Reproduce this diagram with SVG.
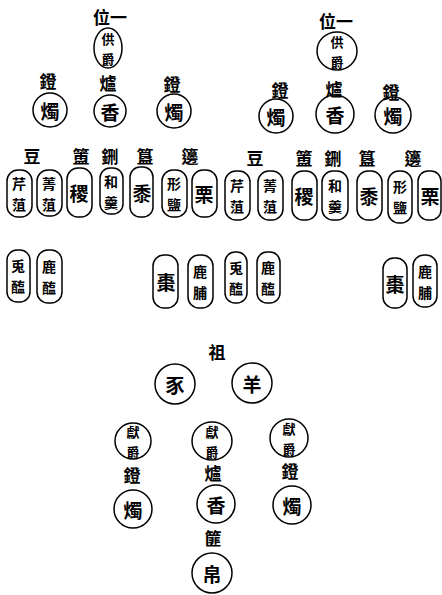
<svg xmlns="http://www.w3.org/2000/svg" width="442" height="595" viewBox="0 0 442 595">
<style>
.o{fill:none;stroke:#000;stroke-width:1.5}
.t{font-family:"Noto Sans CJK TC","Noto Sans CJK SC",sans-serif;font-weight:700;fill:#000;text-anchor:middle;dominant-baseline:central}
.l{font-size:17px}
.c{font-size:19px}
.p{font-size:14px}
.q{font-size:13px}
</style>
<rect width="442" height="595" fill="#fff"/>
<!-- top left group -->
<g id="title-left"><text class="t l" x="110" y="16">位一</text></g>
<g id="gongjue-left"><ellipse class="o" cx="108" cy="48" rx="14" ry="20"/><text class="t q" x="108" y="38">供</text><text class="t q" x="108" y="58">爵</text></g>
<g id="dengzhu-left-1"><text class="t l" x="48" y="80">鐙</text><circle class="o" cx="50" cy="110" r="17"/><text class="t c" x="50" y="110">燭</text></g>
<g id="luxiang-left"><text class="t l" x="108" y="82">爐</text><circle class="o" cx="110" cy="111" r="16"/><text class="t c" x="110" y="111">香</text></g>
<g id="dengzhu-left-2"><text class="t l" x="172" y="83">鐙</text><circle class="o" cx="174" cy="111" r="17"/><text class="t c" x="174" y="111">燭</text></g>
<!-- top right group -->
<g id="title-right"><text class="t l" x="336" y="20">位一</text></g>
<g id="gongjue-right"><ellipse class="o" cx="337" cy="51" rx="20" ry="19"/><text class="t q" x="337" y="41">供</text><text class="t q" x="337" y="61">爵</text></g>
<g id="dengzhu-right-1"><text class="t l" x="280" y="89">鐙</text><circle class="o" cx="276" cy="116" r="17"/><text class="t c" x="276" y="116">燭</text></g>
<g id="luxiang-right"><text class="t l" x="334" y="88">爐</text><circle class="o" cx="335" cy="114" r="19"/><text class="t c" x="335" y="114">香</text></g>
<g id="dengzhu-right-2"><text class="t l" x="391" y="91">鐙</text><circle class="o" cx="393" cy="115" r="18"/><text class="t c" x="393" y="115">燭</text></g>
<!-- vessel labels left -->
<g id="labels-left">
<text class="t l" x="32" y="155">豆</text>
<text class="t l" x="81" y="155">簠</text>
<text class="t l" x="110" y="155">鉶</text>
<text class="t l" x="145" y="155">簋</text>
<text class="t l" x="190" y="155">籩</text>
</g>
<g id="qinzu-left"><rect class="o" x="7" y="170" width="25" height="47" rx="11"/><text class="t p" x="19" y="183">芹</text><text class="t p" x="19" y="204">菹</text></g>
<g id="jingzu-left"><rect class="o" x="37" y="170" width="25" height="46" rx="11"/><text class="t p" x="49" y="183">菁</text><text class="t p" x="49" y="204">菹</text></g>
<g id="ji-left"><rect class="o" x="67" y="168" width="25" height="49" rx="11"/><text class="t c" x="79" y="192">稷</text></g>
<g id="hegeng-left"><rect class="o" x="100" y="168" width="23" height="46" rx="10"/><text class="t p" x="111" y="181">和</text><text class="t p" x="111" y="202">羹</text></g>
<g id="shu-left"><rect class="o" x="130" y="167" width="23" height="50" rx="10"/><text class="t c" x="142" y="192">黍</text></g>
<g id="xingyan-left"><rect class="o" x="162" y="170" width="25" height="47" rx="11"/><text class="t p" x="174" y="183">形</text><text class="t p" x="174" y="204">鹽</text></g>
<g id="li-left"><rect class="o" x="192" y="170" width="25" height="47" rx="11"/><text class="t c" x="204" y="193">栗</text></g>
<!-- vessel labels right -->
<g id="labels-right">
<text class="t l" x="255" y="157">豆</text>
<text class="t l" x="304" y="157">簠</text>
<text class="t l" x="333" y="157">鉶</text>
<text class="t l" x="367" y="157">簋</text>
<text class="t l" x="413" y="157">籩</text>
</g>
<g id="qinzu-right"><rect class="o" x="225" y="171" width="25" height="49" rx="11"/><text class="t p" x="237" y="185">芹</text><text class="t p" x="237" y="206">菹</text></g>
<g id="jingzu-right"><rect class="o" x="258" y="171" width="25" height="49" rx="11"/><text class="t p" x="270" y="185">菁</text><text class="t p" x="270" y="206">菹</text></g>
<g id="ji-right"><rect class="o" x="292" y="171" width="25" height="49" rx="11"/><text class="t c" x="304" y="195">稷</text></g>
<g id="hegeng-right"><rect class="o" x="322" y="171" width="26" height="49" rx="11"/><text class="t p" x="335" y="185">和</text><text class="t p" x="335" y="206">羹</text></g>
<g id="shu-right"><rect class="o" x="357" y="171" width="25" height="49" rx="11"/><text class="t c" x="369" y="195">黍</text></g>
<g id="xingyan-right"><rect class="o" x="388" y="171" width="24" height="52" rx="11"/><text class="t p" x="400" y="186">形</text><text class="t p" x="400" y="207">鹽</text></g>
<g id="li-right"><rect class="o" x="418" y="171" width="23" height="49" rx="10"/><text class="t c" x="430" y="195">栗</text></g>
<!-- second row -->
<g id="tuhai-left"><rect class="o" x="7" y="250" width="23" height="52" rx="10"/><text class="t p" x="18" y="265">兎</text><text class="t p" x="18" y="286">醢</text></g>
<g id="luhai-left"><rect class="o" x="37" y="250" width="25" height="53" rx="11"/><text class="t p" x="49" y="266">鹿</text><text class="t p" x="49" y="287">醢</text></g>
<g id="zao-left"><rect class="o" x="153" y="255" width="25" height="53" rx="11"/><text class="t c" x="166" y="281">棗</text></g>
<g id="lufu-left"><rect class="o" x="188" y="255" width="25" height="53" rx="11"/><text class="t p" x="200" y="271">鹿</text><text class="t p" x="200" y="292">脯</text></g>
<g id="tuhai-right"><rect class="o" x="225" y="252" width="22" height="51" rx="10"/><text class="t p" x="236" y="267">兎</text><text class="t p" x="236" y="288">醢</text></g>
<g id="luhai-right"><rect class="o" x="257" y="252" width="23" height="51" rx="10"/><text class="t p" x="268" y="267">鹿</text><text class="t p" x="268" y="288">醢</text></g>
<g id="zao-right"><rect class="o" x="383" y="258" width="24" height="50" rx="11"/><text class="t c" x="395" y="283">棗</text></g>
<g id="lufu-right"><rect class="o" x="413" y="255" width="24" height="52" rx="11"/><text class="t p" x="425" y="271">鹿</text><text class="t p" x="425" y="292">脯</text></g>
<!-- bottom group -->
<g id="zu-label"><text class="t l" x="217" y="351">祖</text></g>
<g id="shi"><circle class="o" cx="175" cy="384" r="20"/><text class="t c" x="175" y="384">豕</text></g>
<g id="yang"><circle class="o" cx="252" cy="383" r="20"/><text class="t c" x="252" y="383">羊</text></g>
<g id="xianjue-1"><circle class="o" cx="133" cy="441" r="18"/><text class="t q" x="133" y="431">獻</text><text class="t q" x="133" y="451">爵</text></g>
<g id="xianjue-2"><ellipse class="o" cx="212" cy="441" rx="20" ry="19"/><text class="t q" x="212" y="431">獻</text><text class="t q" x="212" y="451">爵</text></g>
<g id="xianjue-3"><circle class="o" cx="289" cy="438" r="19"/><text class="t q" x="289" y="428">獻</text><text class="t q" x="289" y="448">爵</text></g>
<g id="dengzhu-b1"><text class="t l" x="132" y="474">鐙</text><circle class="o" cx="133" cy="509" r="19"/><text class="t c" x="133" y="509">燭</text></g>
<g id="luxiang-b"><text class="t l" x="213" y="472">爐</text><circle class="o" cx="216" cy="504" r="19"/><text class="t c" x="216" y="504">香</text></g>
<g id="dengzhu-b2"><text class="t l" x="290" y="470">鐙</text><circle class="o" cx="292" cy="505" r="19"/><text class="t c" x="292" y="505">燭</text></g>
<g id="feibo"><text class="t l" x="213" y="537">篚</text><circle class="o" cx="212" cy="573" r="20"/><text class="t c" x="212" y="573">帛</text></g>
</svg>
